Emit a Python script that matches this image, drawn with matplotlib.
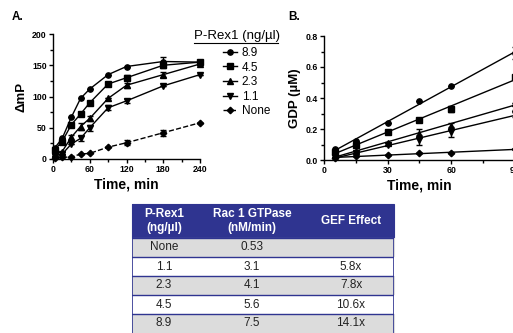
import matplotlib
matplotlib.use("Agg")
import matplotlib.pyplot as plt
from matplotlib.ticker import MultipleLocator
from matplotlib.lines import Line2D
import numpy as np

plt.rcParams['font.family'] = ['Liberation Sans', 'DejaVu Sans']

# --- panel A: anisotropy time course ---
time_a = [3, 15, 30, 45, 60, 90, 120, 180, 240]
mp_89 = [18, 33, 67, 97, 112, 135, 148, 156, 155]
mp_45 = [15, 28, 55, 72, 90, 120, 130, 150, 155]
mp_23 = [8, 12, 35, 52, 65, 97, 118, 135, 152]
mp_11 = [5, 8, 24, 33, 50, 82, 93, 117, 135]
mp_none = [2, 3, 3, 8, 9, 19, 26, 42, 58]
err_89 = [0, 0, 0, 0, 0, 0, 0, 8, 0]
err_45 = [0, 0, 0, 0, 0, 0, 4, 5, 0]
err_23 = [0, 0, 4, 6, 4, 0, 4, 4, 0]
err_11 = [0, 0, 0, 4, 5, 4, 3, 0, 0]
err_none = [0, 0, 0, 0, 0, 0, 4, 5, 0]

# --- panel B: GDP released ---
time_b = [5, 15, 30, 45, 60, 90]
gdp_89 = [0.07, 0.12, 0.236, 0.38, 0.48, 0.69]
gdp_45 = [0.05, 0.10, 0.18, 0.255, 0.33, 0.535]
gdp_23 = [0.03, 0.06, 0.11, 0.17, 0.22, 0.37]
gdp_11 = [0.02, 0.045, 0.095, 0.13, 0.18, 0.30]
gdp_none = [0.015, 0.025, 0.03, 0.045, 0.045, 0.07]
gerr_89 = [0, 0, 0, 0, 0, 0.04]
gerr_45 = [0, 0, 0, 0, 0.02, 0]
gerr_23 = [0, 0, 0, 0.03, 0.02, 0]
gerr_11 = [0, 0, 0, 0.03, 0.03, 0.02]
gerr_none = [0, 0, 0, 0, 0, 0]

labels = ['8.9', '4.5', '2.3', '1.1', 'None']
markers = ['o', 's', '^', 'v', 'D']

# --- table ---
col_labels = ['P-Rex1\n(ng/\u00b5l)', 'Rac 1 GTPase\n(nM/min)', 'GEF Effect']
t_conc = ['None', '1.1', '2.3', '4.5', '8.9']
t_rate = ['0.53', '3.1', '4.1', '5.6', '7.5']
t_gef = ['', '5.8x', '7.8x', '10.6x', '14.1x']

W, H = 513, 333
fig = plt.figure(figsize=(W / 100, H / 100), dpi=100)


def px_axes(x0, y0, x1, y1):
    return fig.add_axes([x0 / W, 1 - y1 / H, (x1 - x0) / W, (y1 - y0) / H])


def style(ax):
    for s in ['top', 'right']:
        ax.spines[s].set_visible(False)
    for s in ['left', 'bottom']:
        ax.spines[s].set_linewidth(1.0)
    ax.tick_params(which='major', length=3, width=1, labelsize=6.3, pad=1.5)
    ax.tick_params(which='minor', length=2, width=1)
    for t in ax.get_xticklabels() + ax.get_yticklabels():
        t.set_fontweight('bold')


def ms_of(m):
    return 3.3 if m == 'D' else 3.8


axA = px_axes(53, 34, 200, 159)
series_a = [mp_89, mp_45, mp_23, mp_11, mp_none]
errs_a = [err_89, err_45, err_23, err_11, err_none]
handles = []
for i, (y, e) in enumerate(zip(series_a, errs_a)):
    ls = '--' if labels[i] == 'None' else '-'
    axA.errorbar(time_a, y, yerr=e, color='black', lw=1, ls=ls,
                 marker=markers[i], ms=ms_of(markers[i]),
                 capsize=2, elinewidth=1, capthick=1, clip_on=False)
    handles.append(Line2D([], [], color='black', lw=1, ls=ls,
                          marker=markers[i], ms=ms_of(markers[i])))
axA.set_xlim(0, 240)
axA.set_ylim(0, 200)
axA.xaxis.set_major_locator(MultipleLocator(60))
axA.xaxis.set_minor_locator(MultipleLocator(30))
axA.yaxis.set_major_locator(MultipleLocator(50))
axA.yaxis.set_minor_locator(MultipleLocator(25))
style(axA)
axA.set_xlabel('Time, min', fontsize=10, fontweight='bold', labelpad=2)
axA.set_ylabel('\u0394mP', fontsize=9.5, fontweight='bold', labelpad=3)

leg = fig.legend(handles, labels, loc='upper left',
                 bbox_to_anchor=(223 / W, 1 - 47 / H), frameon=False,
                 fontsize=8.5, handlelength=1.2, handletextpad=0.4,
                 labelspacing=0.22, borderpad=0, borderaxespad=0)
fig.text(194 / W, 1 - 36 / H, 'P-Rex1 (ng/\u00b5l)', fontsize=9.5,
         va='center', ha='left')
fig.add_artist(Line2D([194 / W, 278 / W], [1 - 42.5 / H, 1 - 42.5 / H],
                      color='black', lw=0.8))

axB = px_axes(324, 36, 515, 160)
series_b = [gdp_89, gdp_45, gdp_23, gdp_11, gdp_none]
errs_b = [gerr_89, gerr_45, gerr_23, gerr_11, gerr_none]
for i, (y, e) in enumerate(zip(series_b, errs_b)):
    axB.errorbar(time_b, y, yerr=e, color='black', ls='none',
                 marker=markers[i], ms=ms_of(markers[i]),
                 capsize=2, elinewidth=1, capthick=1, clip_on=False)
    k, b = np.polyfit(time_b, y, 1)
    xs = np.array([time_b[0], time_b[-1]])
    axB.plot(xs, k * xs + b, color='black', lw=1)
axB.set_xlim(0, 90)
axB.set_ylim(0, 0.8)
axB.xaxis.set_major_locator(MultipleLocator(30))
axB.xaxis.set_minor_locator(MultipleLocator(15))
axB.yaxis.set_major_locator(MultipleLocator(0.2))
axB.yaxis.set_minor_locator(MultipleLocator(0.1))
axB.yaxis.set_major_formatter(plt.FormatStrFormatter('%.1f'))
style(axB)
axB.set_xlabel('Time, min', fontsize=10, fontweight='bold', labelpad=2)
axB.set_ylabel('GDP (\u00b5M)', fontsize=9.5, fontweight='bold', labelpad=3)

fig.text(12 / W, 1 - 17 / H, 'A.', fontsize=8.5, fontweight='bold', va='center')
fig.text(288 / W, 1 - 17 / H, 'B.', fontsize=8.5, fontweight='bold', va='center')

# table
axT = px_axes(132, 204, 394, 333)
axT.set_xlim(0, 1)
axT.set_ylim(0, 1)
axT.axis('off')
cells = [[c, r, g] for c, r, g in zip(t_conc, t_rate, t_gef)]
widths = np.array([64, 112, 86]) / 262
tab = axT.table(cellText=cells, colLabels=col_labels, cellLoc='center',
                bbox=[0, 0, 1, 1], colWidths=list(widths))
tab.auto_set_font_size(False)
blue = '#2f3490'
head_h = 34 / 129
row_h = 19 / 129
for (r, c), cell in tab.get_celld().items():
    cell.set_linewidth(0.8)
    if r == 0:
        cell.set_height(head_h)
        cell.set_facecolor(blue)
        cell.set_edgecolor(blue)
        cell.get_text().set_color('white')
        cell.get_text().set_fontweight('bold')
        cell.get_text().set_fontsize(8.5)
        cell.get_text().set_linespacing(1.25)
    else:
        fc = '#dcdcdc' if r % 2 == 1 else 'white'
        cell.set_height(row_h)
        cell.set_facecolor(fc)
        cell.set_edgecolor(fc)
        cell.get_text().set_color('#222222')
        cell.get_text().set_fontsize(8.5)

# blue rules between rows and outer frame
for j in range(len(t_conc)):
    yb = 1 - head_h - j * row_h
    axT.plot([0, 1], [yb, yb], color=blue, lw=1, zorder=5)
axT.plot([0, 0], [0, 1], color=blue, lw=1.2, zorder=5)
axT.plot([1, 1], [0, 1], color=blue, lw=1.2, zorder=5)

fig.savefig('out.png', dpi=100)
